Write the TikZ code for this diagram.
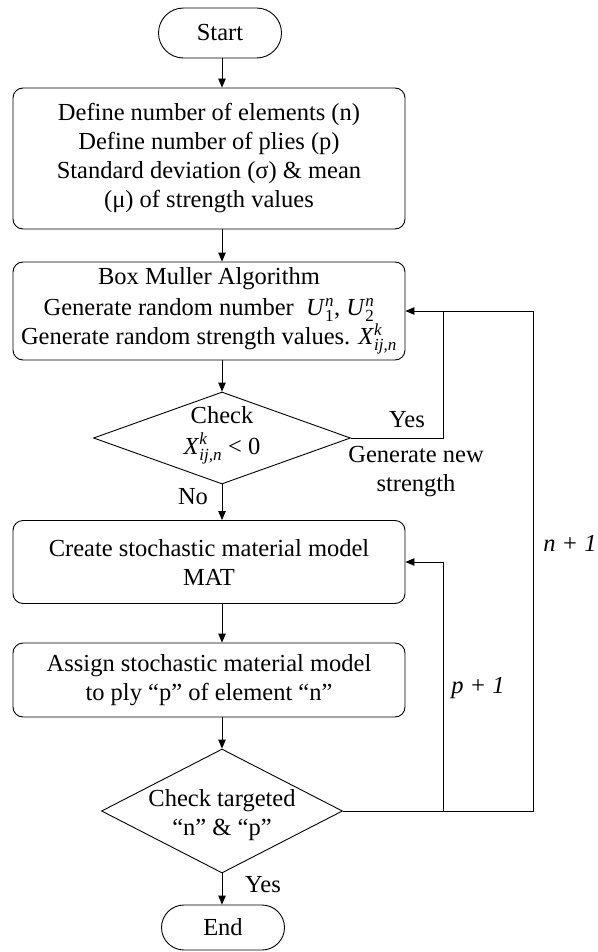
\documentclass[tikz,border=0pt]{standalone}
\usepackage{fontspec}
\setmainfont{Liberation Serif}
\usetikzlibrary{shapes.geometric,arrows.meta,calc}
\newcommand\scr[1]{\mbox{\fontsize{17}{17}\selectfont #1}}
\newcommand\sv[3]{$\mbox{\textit{#1}}^{\scr{#2}}_{\scr{#3}}$}
\begin{document}
\begin{tikzpicture}[x=1pt,y=-1pt,
  every node/.style={font=\fontsize{24.5}{29}\selectfont},
  term/.style={draw, rectangle, minimum width=123pt, inner sep=0pt, line width=0.9pt},
  proc/.style={draw, rectangle, rounded corners=10pt, minimum width=392pt, align=center, inner sep=2pt, line width=0.9pt},
  decision/.style={draw, diamond, inner sep=0pt, line width=0.9pt},
  lbl/.style={inner sep=0pt, align=center},
  conn/.style={line width=0.9pt},
  arrow/.style={conn, -{Triangle[length=9pt,width=7.5pt]}}]
\useasboundingbox (0,0) rectangle (597,952);
\node[term, rounded corners=25pt, minimum height=50pt] (start) at (220,33) {Start};
\node[proc, minimum height=141pt] (def) at (209,158.5) {Define number of elements (n)\\Define number of plies (p)\\Standard deviation (σ) \& mean\\(μ) of strength values};
\node[proc, minimum height=98pt] (bm) at (209,311) {Box Muller Algorithm\\[2pt]Generate random number\ \ \sv{U}{\textit{n}}{1}, \sv{U}{\textit{n}}{2}\\Generate random strength values. \sv{X}{\textit{k}}{\textit{ij,n}}};
\node[decision, minimum width=257pt, minimum height=92pt] (c1) at (222,438) {};
\node[lbl] (c1t) at (222,435) {Check\\[2pt]\sv{X}{\textit{k}}{\textit{ij,n}} \textless{} 0};
\node[proc, minimum height=83pt] (mat) at (209,562) {Create stochastic material model\\MAT};
\node[proc, minimum height=74pt] (asg) at (209,680) {Assign stochastic material model\\to ply “p” of element “n”};
\node[decision, minimum width=241pt, minimum height=124pt] (c2) at (222,811) {};
\node[lbl] (c2t) at (222,815) {Check targeted\\“n” \& “p”};
\node[term, rounded corners=22.5pt, minimum height=45pt] (end) at (223,927.5) {End};

\coordinate (j1) at ($(bm.east)+(38,0)$);
\coordinate (j3) at ($(bm.east)+(128,0)$);
\coordinate (j2) at ($(mat.east)+(38,0)$);

\draw[arrow] (start.south -| c1.north) -- (def.north -| c1.north);
\draw[arrow] (def.south -| c1.north) -- (bm.north -| c1.north);
\draw[arrow] (bm.south -| c1.north) -- (c1.north);
\draw[arrow] (c1.south) -- (mat.north -| c1.south);
\draw[arrow] (mat.south -| c1.south) -- (asg.north -| c1.south);
\draw[arrow] (asg.south -| c2.north) -- (c2.north);
\draw[arrow] (c2.south) -- (end.north -| c2.south);
\draw[arrow] (c1.east) -| (j1) -- (bm.east);
\draw[conn] (c2.east) -| (j3) -- (j1);
\draw[arrow] (c2.east -| j2) -- (j2) -- (mat.east);

\node[lbl] (yes1) at (407,420) {Yes};
\node[lbl] (gen) at (416,472) {Generate new\\strength};
\node[lbl] (no) at (193,497) {No};
\node[lbl] (pp) at (478,688) {\textit{p + 1}};
\node[lbl] (nn) at (570,543) {\textit{n + 1}};
\node[lbl] (yes2) at (263,885) {Yes};
\end{tikzpicture}
\end{document}
